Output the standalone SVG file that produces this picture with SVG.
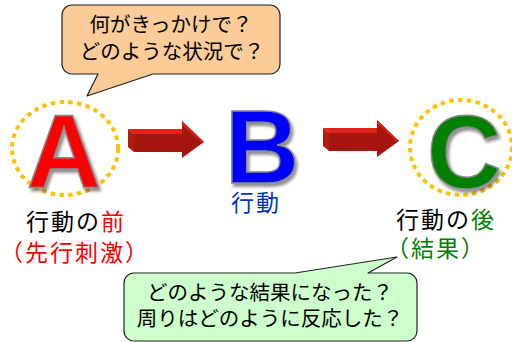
<svg xmlns="http://www.w3.org/2000/svg" width="512" height="342" viewBox="0 0 512 342">
<defs>
  <filter id="shadow" x="-20%" y="-20%" width="150%" height="150%">
    <feDropShadow dx="2" dy="3" stdDeviation="1.5" flood-color="#000" flood-opacity="0.45"/>
  </filter>
</defs>
<style>
  .jp { font-family: "Noto Sans CJK JP", "Noto Sans", sans-serif; }
  .bubble { font-size: 20.5px; fill: #000; text-anchor: middle; }
  .label { font-size: 23px; letter-spacing: 2px; }
  .big { font-family: "Liberation Sans", Arial, sans-serif; font-weight: bold; font-size: 103px; stroke: #8a8a8a; stroke-width: 1.5; filter: url(#shadow); }
  .dots { fill: none; stroke: #FFC000; stroke-width: 4; stroke-dasharray: 4.5 4.3; }
  .callout { stroke: #222; stroke-width: 1.2; stroke-linejoin: round; }
</style>
<rect width="512" height="342" fill="#fff"/>

<g id="connectors">
  <g id="arrow-ab">
    <polygon points="128,129 134,134 134,152 128,147" fill="#B31A10"/>
    <polygon points="128,129 182,129 182,134 134,134" fill="#E2231A"/>
    <rect x="134" y="134" width="48" height="18" fill="#A5170E"/>
    <polygon points="182,121 204,142 182,158" fill="#A5170E"/>
    <polygon points="182,121 204,142 201,142 182,125" fill="#D12016"/>
  </g>
  <g id="arrow-bc" transform="translate(195,-1)">
    <polygon points="128,129 134,134 134,152 128,147" fill="#B31A10"/>
    <polygon points="128,129 182,129 182,134 134,134" fill="#E2231A"/>
    <rect x="134" y="134" width="48" height="18" fill="#A5170E"/>
    <polygon points="182,121 204,142 182,158" fill="#A5170E"/>
    <polygon points="182,121 204,142 201,142 182,125" fill="#D12016"/>
  </g>
</g>

<g id="callout-top">
  <path class="callout" fill="#FBCB98" d="M72,5 H270 A10,10 0 0 1 280,15 V64 A10,10 0 0 1 270,74 H153 L87,96 L98,74 H72 A10,10 0 0 1 62,64 V15 A10,10 0 0 1 72,5 Z"/>
  <text class="jp bubble" x="171" y="32">何がきっかけで？</text>
  <text class="jp bubble" x="172" y="59">どのような状況で？</text>
</g>

<g id="node-a">
  <ellipse class="dots" cx="65" cy="148.5" rx="53" ry="46.5"/>
  <text class="big" x="64" y="187" text-anchor="middle" fill="#FF0000">A</text>
  <text class="jp label" x="26" y="230" fill="#000">行動の<tspan fill="#FF0000">前</tspan></text>
  <text class="jp label" x="0" y="261" fill="#FF0000">（先行刺激）</text>
</g>

<g id="node-b">
  <text class="big" x="225" y="183" fill="#0000FF">B</text>
  <text class="jp label" x="231" y="211" fill="#0033CC">行動</text>
</g>

<g id="node-c">
  <ellipse class="dots" cx="461" cy="147.5" rx="51" ry="47.5"/>
  <text class="big" x="427" y="188" fill="#008000">C</text>
  <text class="jp label" x="396" y="228" fill="#000">行動の<tspan fill="#008000">後</tspan></text>
  <text class="jp label" x="386" y="257" fill="#008000">（結果）</text>
</g>

<g id="callout-bottom">
  <path class="callout" fill="#CCFFCC" d="M134,273 H295 L397,257 L368,273 H407 A10,10 0 0 1 417,283 V331 A10,10 0 0 1 407,341 H134 A10,10 0 0 1 124,331 V283 A10,10 0 0 1 134,273 Z"/>
  <text class="jp bubble" x="270" y="300">どのような結果になった？</text>
  <text class="jp bubble" x="270" y="326">周りはどのように反応した？</text>
</g>
</svg>
